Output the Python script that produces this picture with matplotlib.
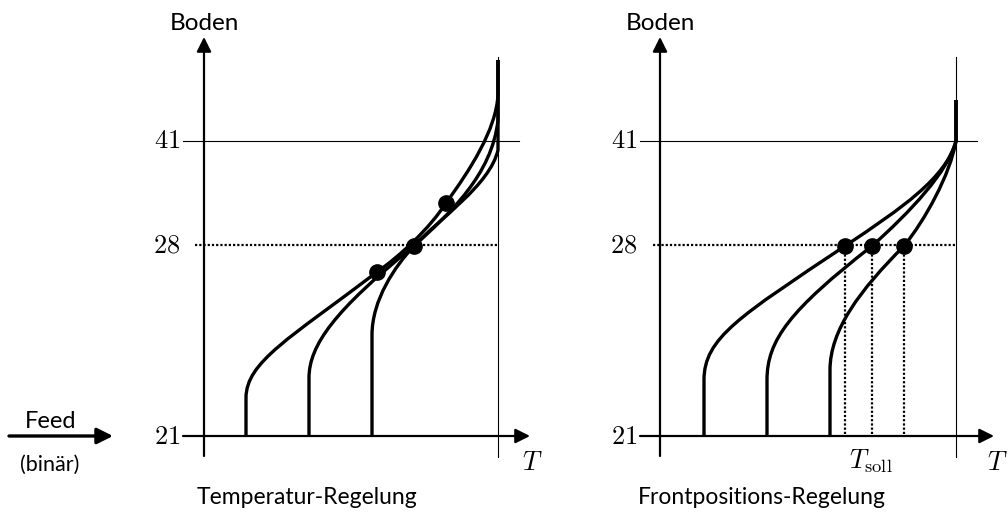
import matplotlib
matplotlib.use("Agg")
import matplotlib.pyplot as plt
from matplotlib.path import Path
from matplotlib.patches import PathPatch

# schematic coordinates (pixels, y pointing down)
boden_ticks = ["41", "28", "21"]
tick_y = [141, 245, 436]

panel_titles = ["Temperatur-Regelung", "Frontpositions-Regelung"]
title_x = [307, 762]
yaxis_x = [204, 660]
t_max_x = [498, 956]
xaxis_end = [530, 994]
t_label_x = [532, 997]
tick_start = [183, 640]
line41_end = [519, 977]
dotted28_start = [195, 653]

# temperature profiles: start, knee, bezier triples ..., top
left_curves = [
    [(246, 436), (246, 398), (246, 362), (290, 338), (377, 272),
     (400, 256), (430, 228), (446, 203), (470, 170), (496, 130), (498, 95), (498, 60)],
    [(309, 436), (309, 378), (309, 345), (335, 310), (414, 246),
     (450, 213), (492, 175), (498, 120), (498, 60)],
    [(372, 436), (372, 335), (372, 300), (395, 266), (414, 246),
     (440, 218), (490, 185), (498, 150), (498, 60)],
]
right_curves = [
    [(704, 436), (704, 380), (704, 338), (740, 316), (845, 246),
     (902, 208), (946, 178), (956, 141), (956, 100)],
    [(767, 436), (767, 380), (767, 340), (790, 310), (872, 246),
     (910, 212), (948, 172), (956, 141), (956, 100)],
    [(830, 436), (830, 370), (830, 330), (860, 290), (904, 246),
     (925, 220), (950, 175), (956, 141), (956, 100)],
]
left_dots_x = [377, 414, 446]
left_dots_y = [272, 246, 203]
right_dots_x = [845, 872, 904]
right_dots_y = [246, 246, 246]

plt.rcParams["mathtext.fontset"] = "cm"
plt.rcParams["font.family"] = ["Lato", "DejaVu Sans"]

fig = plt.figure(figsize=(10.08, 5.18), dpi=100)
ax = fig.add_axes([0, 0, 1, 1])
ax.set_xlim(0, 1008)
ax.set_ylim(518, 0)
ax.axis("off")

arrow = dict(arrowstyle="-|>", color="black", lw=1.6, mutation_scale=22, shrinkA=0, shrinkB=0)
dots = (0, (1, 0.9))


def draw_curve(pts):
    n_curve = len(pts) - 3
    codes = [Path.MOVETO, Path.LINETO] + [Path.CURVE4] * n_curve + [Path.LINETO]
    ax.add_patch(PathPatch(Path(pts, codes), fill=False, lw=2.4, ec="black",
                           capstyle="butt", joinstyle="round", zorder=3))


for i in range(2):
    x0 = yaxis_x[i]
    # axes
    ax.annotate("", xy=(x0, 37), xytext=(x0, 456), arrowprops=arrow)
    ax.annotate("", xy=(xaxis_end[i], tick_y[2]), xytext=(tick_start[i], tick_y[2]), arrowprops=arrow)
    ax.text(x0, 23, "Boden", fontsize=17.5, ha="center", va="center")
    # tick lines
    ax.plot([tick_start[i], line41_end[i]], [tick_y[0], tick_y[0]], color="black", lw=0.8)
    ax.plot([dotted28_start[i], t_max_x[i]], [tick_y[1], tick_y[1]], color="black", lw=1.6,
            linestyle=dots)
    ax.plot([t_max_x[i], t_max_x[i]], [57, 457], color="black", lw=0.8)
    for lab, y in zip(boden_ticks, tick_y):
        ax.text(tick_start[i] - 3, y, "$" + lab + "$", fontsize=19, ha="right", va="center")
    ax.text(t_label_x[i], 462, "$T$", fontsize=19, ha="center", va="center")
    ax.text(title_x[i], 497, panel_titles[i], fontsize=16.5, ha="center", va="center")

for c in left_curves:
    draw_curve(c)
for c in right_curves:
    draw_curve(c)

ax.plot(left_dots_x, left_dots_y, "o", color="black", ms=11, zorder=4)
ax.plot(right_dots_x, right_dots_y, "o", color="black", ms=11, zorder=4)
for x, y in zip(right_dots_x, right_dots_y):
    ax.plot([x, x], [y, tick_y[2]], color="black", lw=1.6, linestyle=dots, zorder=2)

ax.text(871, 461, r"$T_{\mathrm{soll}}$", fontsize=19, ha="center", va="center")

# feed
ax.annotate("", xy=(113, 436), xytext=(9, 436),
            arrowprops=dict(arrowstyle="-|>", color="black", lw=2.4, mutation_scale=24,
                            shrinkA=0, shrinkB=0))
ax.text(51, 421, "Feed", fontsize=17, ha="center", va="center")
ax.text(50, 465, "(binär)", fontsize=15.5, ha="center", va="center")

fig.savefig("out.png", dpi=100)
